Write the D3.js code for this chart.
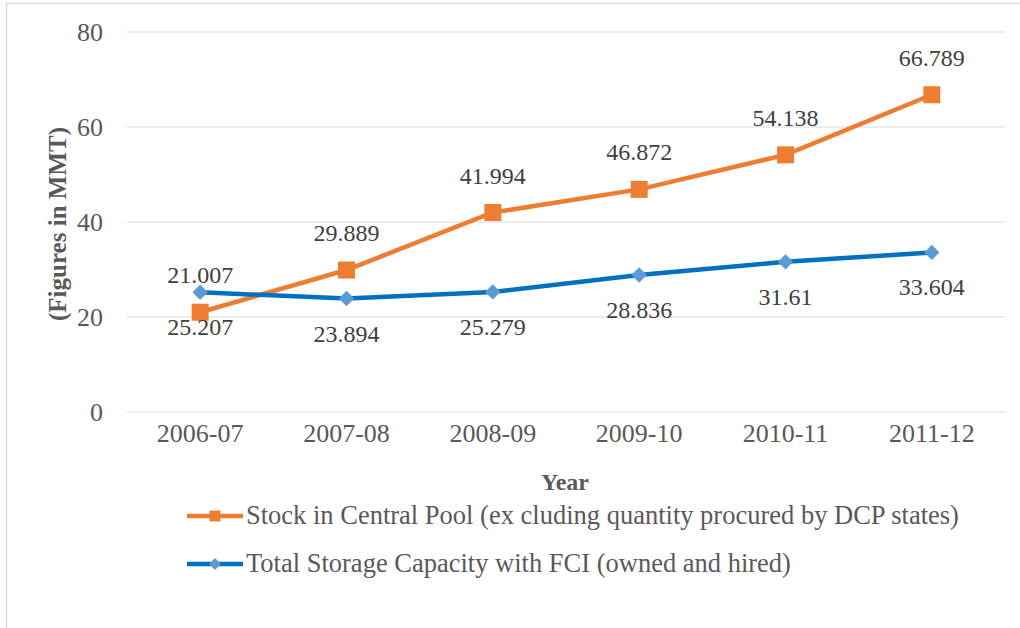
<!DOCTYPE html>
<html>
<head>
<meta charset="utf-8">
<script src="https://cdn.jsdelivr.net/npm/d3@7/dist/d3.min.js"></script>
<style>
  body { margin: 0; background: #fff; }
</style>
</head>
<body>
<div class="chart-js"></div>
<script>
'use strict';

var years = ['2006-07', '2007-08', '2008-09', '2009-10', '2010-11', '2011-12'];
var stockValues = [21.007, 29.889, 41.994, 46.872, 54.138, 66.789];
var storageValues = [25.207, 23.894, 25.279, 28.836, 31.61, 33.604];
var yTicks = [0, 20, 40, 60, 80];
var stockName = 'Stock in Central Pool (ex cluding quantity procured by DCP states)';
var storageName = 'Total Storage Capacity with FCI (owned and hired)';

var FONT = 'Liberation Serif';

function run() {
  var owidth = 1020, oheight = 628;
  var margin = {top: 32, right: 15, bottom: 216, left: 127};
  var cwidth = owidth - margin.left - margin.right;
  var cheight = oheight - margin.top - margin.bottom;

  var svg = d3.select('.chart-js').append('svg')
    .attr('width', owidth)
    .attr('height', oheight);

  // outer frame
  svg.append('rect')
    .attr('x', 6.5).attr('y', 3.5)
    .attr('width', owidth).attr('height', oheight)
    .attr('fill', 'none')
    .attr('stroke', '#d9d9d9')
    .attr('stroke-width', 1.5);

  var chart = svg.append('g')
    .attr('transform', 'translate(' + margin.left + ',' + margin.top + ')');

  var x = d3.scaleBand().domain(years).range([0, cwidth]);
  var y = d3.scaleLinear().domain([0, 80]).range([cheight, 0]);
  var cx = function(d, i) { return x(years[i]) + x.bandwidth() / 2; };

  // gridlines
  chart.append('g').selectAll('line')
    .data(yTicks)
    .join('line')
    .attr('x1', 0).attr('x2', cwidth)
    .attr('y1', function(d) { return y(d); })
    .attr('y2', function(d) { return y(d); })
    .attr('stroke', '#d9d9d9')
    .attr('stroke-width', 1);

  // y tick labels
  var yAxis = d3.axisLeft(y).tickValues(yTicks).tickSize(0).tickPadding(24);
  chart.append('g').call(yAxis)
    .call(function(g) { g.select('.domain').remove(); })
    .selectAll('text')
    .attr('font-family', FONT)
    .attr('font-size', 26)
    .attr('fill', '#595959');

  // x tick labels
  var xAxis = d3.axisBottom(x).tickSize(0).tickPadding(12);
  chart.append('g')
    .attr('transform', 'translate(0,' + cheight + ')')
    .call(xAxis)
    .call(function(g) { g.select('.domain').remove(); })
    .selectAll('text')
    .attr('font-family', FONT)
    .attr('font-size', 26)
    .attr('fill', '#595959');

  // axis titles
  svg.append('text')
    .attr('x', 565).attr('y', 490)
    .attr('text-anchor', 'middle')
    .attr('font-family', FONT)
    .attr('font-size', 24).attr('font-weight', 'bold')
    .attr('fill', '#595959')
    .text('Year');

  svg.append('text')
    .attr('transform', 'translate(66,224) rotate(-90)')
    .attr('text-anchor', 'middle')
    .attr('font-family', FONT)
    .attr('font-size', 25).attr('font-weight', 'bold')
    .attr('fill', '#595959')
    .text('(Figures in MMT)');

  var line = d3.line()
    .x(cx)
    .y(function(d) { return y(d); });

  // stock series
  chart.append('path')
    .datum(stockValues)
    .attr('fill', 'none')
    .attr('stroke', '#ed7d31')
    .attr('stroke-width', 4.5)
    .attr('d', line);

  // storage series
  chart.append('path')
    .datum(storageValues)
    .attr('fill', 'none')
    .attr('stroke', '#0070c0')
    .attr('stroke-width', 4.5)
    .attr('d', line);

  var square = d3.symbol().type(d3.symbolSquare).size(289);
  var diamond = d3.symbol().type(d3.symbolDiamond2).size(150);

  chart.append('g').selectAll('path')
    .data(stockValues)
    .join('path')
    .attr('d', square)
    .attr('fill', '#ed7d31')
    .attr('transform', function(d, i) { return 'translate(' + cx(d, i) + ',' + y(d) + ')'; });

  chart.append('g').selectAll('path')
    .data(storageValues)
    .join('path')
    .attr('d', diamond)
    .attr('fill', '#5b9bd5')
    .attr('transform', function(d, i) { return 'translate(' + cx(d, i) + ',' + y(d) + ')'; });

  // data labels: stock above, storage below
  chart.append('g').selectAll('text')
    .data(stockValues)
    .join('text')
    .attr('x', cx)
    .attr('y', function(d) { return y(d) - 29; })
    .attr('text-anchor', 'middle')
    .attr('font-family', FONT)
    .attr('font-size', 24)
    .attr('fill', '#404040')
    .text(function(d) { return d; });

  chart.append('g').selectAll('text')
    .data(storageValues)
    .join('text')
    .attr('x', cx)
    .attr('y', function(d) { return y(d) + 43; })
    .attr('text-anchor', 'middle')
    .attr('font-family', FONT)
    .attr('font-size', 24)
    .attr('fill', '#404040')
    .text(function(d) { return d; });

  // legend
  var legend = [
    {name: stockName, color: '#ed7d31', marker: '#ed7d31', sym: d3.symbol().type(d3.symbolSquare).size(120), y: 516},
    {name: storageName, color: '#0070c0', marker: '#5b9bd5', sym: d3.symbol().type(d3.symbolDiamond2).size(90), y: 564}
  ];
  var lg = svg.append('g').selectAll('g')
    .data(legend)
    .join('g')
    .attr('transform', function(d) { return 'translate(187,' + d.y + ')'; });
  lg.append('line')
    .attr('x1', 0).attr('x2', 56)
    .attr('stroke', function(d) { return d.color; })
    .attr('stroke-width', 4.5);
  lg.append('path')
    .attr('d', function(d) { return d.sym(); })
    .attr('transform', 'translate(28,0)')
    .attr('fill', function(d) { return d.marker; });
  lg.append('text')
    .attr('x', 59).attr('y', 8)
    .attr('font-family', FONT)
    .attr('font-size', 26.5)
    .attr('fill', '#595959')
    .text(function(d) { return d.name; });
}

document.addEventListener('DOMContentLoaded', run);
</script>
</body>
</html>
